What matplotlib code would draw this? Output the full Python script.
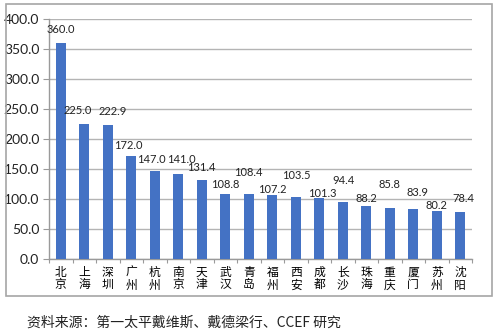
import matplotlib
matplotlib.use("Agg")
import matplotlib.pyplot as plt
from matplotlib.patches import Rectangle

cities = ["北京", "上海", "深圳", "广州", "杭州", "南京", "天津", "武汉", "青岛",
          "福州", "西安", "成都", "长沙", "珠海", "重庆", "厦门", "苏州", "沈阳"]
values = [360.0, 225.0, 222.9, 172.0, 147.0, 141.0, 131.4, 108.8, 108.4,
          107.2, 103.5, 101.3, 94.4, 88.2, 85.8, 83.9, 80.2, 78.4]
yticks = [0, 50, 100, 150, 200, 250, 300, 350, 400]
source = "资料来源：第一太平戴维斯、戴德梁行、CCEF 研究"

# value-label placement (pixels, relative to the top of each bar)
label_dx = [0, -7, 5, -3, -3, 3, 0, 0, 0, 0, 1, 3, 1, 0, 0, 4, 0, 3]
label_dy = [13, 13, 14, 10, 11, 15, 13, 9, 21, 5, 21, 5, 22, 8, 23, 16, 5, 13]

plt.rcParams["font.family"] = ["Lato", "Noto Sans CJK SC", "DejaVu Sans"]

fig = plt.figure(figsize=(5.0, 3.35), dpi=100)
ax = fig.add_axes([0.098, 0.2269, 0.846, 0.7164])

x = list(range(len(cities)))
ax.bar(x, values, width=0.44, color="#4472C4", zorder=3)

for xi, v, dx, dy in zip(x, values, label_dx, label_dy):
    ax.annotate(f"{v:.1f}", xy=(xi, v), xytext=(dx, dy),
                textcoords="offset pixels", ha="center", va="center",
                fontsize=8, color="#222222", zorder=4)

ax.set_xlim(-0.5, len(cities) - 0.5)
ax.set_ylim(0, 400)
ax.set_yticks(yticks)
ax.set_yticklabels([f"{t:.1f}" for t in yticks], fontsize=10)
ax.yaxis.grid(True, color="#b4b4b4", linewidth=1.0, zorder=0)

# category boundary ticks, labels centred under each bar
ax.set_xticks([i - 0.5 for i in range(len(cities) + 1)])
ax.set_xticklabels([])
ax.set_xticks(x, minor=True)
ax.set_xticklabels(["\n".join(c) for c in cities], minor=True,
                   fontsize=8.5, linespacing=0.95,
                   family=["Noto Sans CJK SC", "DejaVu Sans"])
ax.tick_params(axis="x", which="major", length=3, color="#9a9a9a", width=0.8)
ax.tick_params(axis="x", which="minor", length=0, pad=5)
ax.tick_params(axis="y", length=4, color="#9a9a9a", width=0.8, pad=3,
               labelcolor="#222222")

for s in ["top", "right"]:
    ax.spines[s].set_visible(False)
for s in ["left", "bottom"]:
    ax.spines[s].set_color("#9a9a9a")
    ax.spines[s].set_linewidth(1.0)

fig.patches.append(Rectangle((0.012, 0.116), 0.972, 0.872,
                             transform=fig.transFigure, fill=False,
                             edgecolor="#a6a6a6", linewidth=1.2))

fig.text(0.054, 0.036, source, fontsize=10, va="center", ha="left",
         color="#222222", family=["Noto Sans CJK SC", "DejaVu Sans"])

fig.savefig("out.png", dpi=100, facecolor="white")
